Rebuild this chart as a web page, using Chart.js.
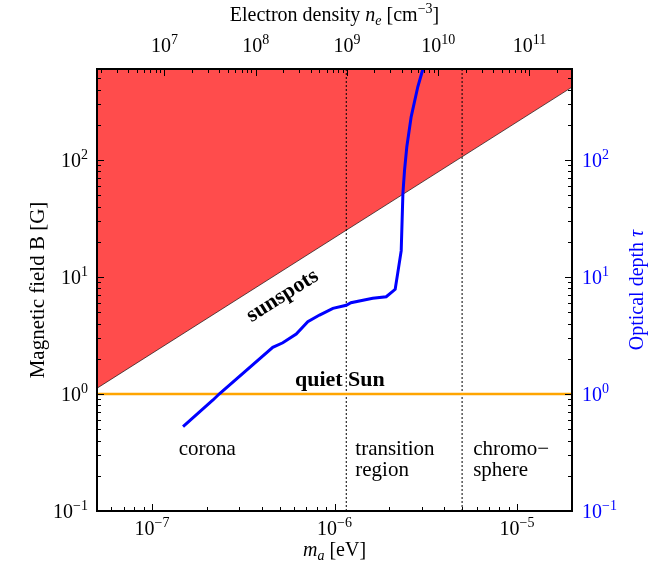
<!DOCTYPE html>
<html>
<head>
<meta charset="utf-8">
<script src="https://cdn.jsdelivr.net/npm/chart.js@4/dist/chart.umd.min.js"></script>
<style>
  body { margin: 0; background: #fff; }
</style>
</head>
<body>
<canvas id="chart" width="659" height="575"></canvas>
<script>
// axion mass range and field range shown
const massRange = [5e-8, 2e-5];
const fieldRange = [0.1, 600];

// sunspot field line (region above it is filled)
const sunspotMass = [5e-8, 2e-5];
const sunspotField = [1.12, 420];

// quiet sun field
const quietSunField = 1.0;

// corona / transition region / chromosphere boundaries
const regionEdges = [1.16e-6, 5.0e-6];

// optical depth curve
const tauMass = [1.48e-7, 2.16e-7, 2.35e-7, 4.59e-7, 5.21e-7, 6.17e-7, 7.14e-7, 8.28e-7,
  9.80e-7, 1.16e-6, 1.23e-6, 1.62e-6, 1.92e-6, 2.15e-6, 2.22e-6, 2.32e-6, 2.37e-6,
  2.42e-6, 2.49e-6, 2.63e-6, 2.86e-6, 3.04e-6, 3.12e-6];
const tauValues = [0.526, 0.889, 1.01, 2.51, 2.74, 3.26, 4.15, 4.73,
  5.40, 5.73, 6.03, 6.58, 6.79, 7.85, 10.8, 16.8, 51.9,
  82.2, 130, 234, 423, 588, 700];

// plasma frequency: m_a [eV] = 3.7e-11 * sqrt(n_e [cm^-3])
const plasmaFactor = 3.7e-11;
const densityRange = massRange.map(m => Math.pow(m / plasmaFactor, 2));

const regionNotes = [
  { lines: ['corona'], mass: 1.40e-7, field: 0.30 },
  { lines: ['transition', 'region'], mass: 1.30e-6, field: 0.30 },
  { lines: ['chromo\u2212', 'sphere'], mass: 5.75e-6, field: 0.30 }
];
const quietNote = { text: 'quiet Sun', mass: 1.07e-6, field: 1.17 };
const sunspotNote = { text: 'sunspots', mass: 5.19e-7, field: 6.88 };

const serif = "'Liberation Serif', 'DejaVu Serif', serif";
const blue = '#0000ff';

const decades = (min, max) => {
  const out = [];
  for (let k = Math.floor(Math.log10(min)); k <= Math.ceil(Math.log10(max)); k++) {
    const v = Number('1e' + k);
    if (v >= min * 0.9999 && v <= max * 1.0001) out.push({ value: v });
  }
  return out;
};

const logSteps = (min, max) => {
  const out = [];
  for (let k = Math.floor(Math.log10(min)); k <= Math.ceil(Math.log10(max)); k++) {
    for (let j = 1; j <= 9; j++) {
      const v = j * Number('1e' + k);
      if (v >= min * 0.9999 && v <= max * 1.0001) out.push({ v, major: j === 1 });
    }
  }
  return out;
};

const toPoints = (xs, ys) => xs.map((x, i) => ({ x, y: ys[i] }));

// text with italic / raised / lowered pieces
const drawRich = (ctx, segs, x, y, size, align) => {
  const fontFor = s => (s.italic ? 'italic ' : '') + Math.round(s.sub || s.sup ? size * 0.7 : size) + 'px ' + serif;
  let w = 0;
  segs.forEach(s => { ctx.font = fontFor(s); w += ctx.measureText(s.t).width; });
  let cx = align === 'center' ? x - w / 2 : align === 'right' ? x - w : x;
  ctx.textAlign = 'left';
  ctx.textBaseline = 'alphabetic';
  segs.forEach(s => {
    ctx.font = fontFor(s);
    const dy = s.sub ? size * 0.22 : s.sup ? -size * 0.42 : 0;
    ctx.fillText(s.t, cx, y + dy);
    cx += ctx.measureText(s.t).width;
  });
};

const powerSegs = v => [{ t: '10' }, { t: String(Math.round(Math.log10(v))).replace('-', '\u2212'), sup: true }];

const insideTicks = {
  id: 'insideTicks',
  afterDraw(chart) {
    const { ctx, chartArea: a } = chart;
    const sx = chart.scales.x, sy = chart.scales.y;
    ctx.save();
    ctx.strokeStyle = '#000';
    ctx.lineWidth = 1;
    Object.values(chart.scales).forEach(s => {
      logSteps(s.min, s.max).forEach(({ v, major }) => {
        const len = major ? 7 : 4;
        const p = Math.round(s.getPixelForValue(v)) + 0.5;
        ctx.beginPath();
        if (s.position === 'bottom') { ctx.moveTo(p, a.bottom); ctx.lineTo(p, a.bottom - len); }
        if (s.position === 'top') { ctx.moveTo(p, a.top); ctx.lineTo(p, a.top + len); }
        if (s.position === 'left') { ctx.moveTo(a.left, p); ctx.lineTo(a.left + len, p); }
        if (s.position === 'right') { ctx.moveTo(a.right, p); ctx.lineTo(a.right - len, p); }
        ctx.stroke();
      });
      // tick labels
      ctx.fillStyle = s.id === 'y2' ? blue : '#000';
      s.ticks.forEach(t => {
        const p = s.getPixelForValue(t.value);
        if (s.position === 'bottom') drawRich(ctx, powerSegs(t.value), p, 535, 20, 'center');
        if (s.position === 'top') drawRich(ctx, powerSegs(t.value), p, 52, 20, 'center');
        if (s.position === 'left') drawRich(ctx, powerSegs(t.value), 88, p + 7, 20, 'right');
        if (s.position === 'right') drawRich(ctx, powerSegs(t.value), 582, p + 7, 20, 'left');
      });
    });

    // axis titles
    ctx.fillStyle = '#000';
    drawRich(ctx, [{ t: 'm', italic: true }, { t: 'a', italic: true, sub: true }, { t: ' [eV]' }],
      (a.left + a.right) / 2, 556, 20, 'center');
    drawRich(ctx, [{ t: 'Electron density ' }, { t: 'n', italic: true }, { t: 'e', italic: true, sub: true },
      { t: ' [cm' }, { t: '\u22123', sup: true }, { t: ']' }], (a.left + a.right) / 2, 21, 20, 'center');

    ctx.save();
    ctx.translate(643, (a.top + a.bottom) / 2);
    ctx.rotate(-Math.PI / 2);
    ctx.fillStyle = blue;
    drawRich(ctx, [{ t: 'Optical depth ' }, { t: '\u03c4', italic: true }], 0, 0, 20, 'center');
    ctx.restore();

    // annotations
    ctx.fillStyle = '#000';
    ctx.font = '21px ' + serif;
    ctx.textAlign = 'left';
    ctx.textBaseline = 'alphabetic';
    regionNotes.forEach(n => {
      const x = sx.getPixelForValue(n.mass);
      const y = sy.getPixelForValue(n.field);
      n.lines.forEach((t, i) => ctx.fillText(t, x, y + i * 21));
    });

    ctx.font = 'bold 22px ' + serif;
    ctx.textAlign = 'center';
    ctx.fillText(quietNote.text, sx.getPixelForValue(quietNote.mass), sy.getPixelForValue(quietNote.field));

    const x0 = sx.getPixelForValue(sunspotMass[0]), y0 = sy.getPixelForValue(sunspotField[0]);
    const x1 = sx.getPixelForValue(sunspotMass[1]), y1 = sy.getPixelForValue(sunspotField[1]);
    ctx.save();
    ctx.translate(sx.getPixelForValue(sunspotNote.mass), sy.getPixelForValue(sunspotNote.field));
    ctx.rotate(Math.atan2(y1 - y0, x1 - x0));
    ctx.textBaseline = 'middle';
    ctx.fillText(sunspotNote.text, 0, 0);
    ctx.restore();
    ctx.restore();
  }
};

const axisFont = { family: serif, size: 21 };
const border = { display: true, color: '#000', width: 2, z: 1 };
const hiddenTicks = { display: false };

new Chart(document.getElementById('chart'), {
  type: 'line',
  data: {
    datasets: [
      {
        data: toPoints(sunspotMass, sunspotField),
        borderColor: 'rgba(0,0,0,0.65)', borderWidth: 1,
        backgroundColor: 'rgba(255,0,0,0.7)', fill: 'end',
        pointRadius: 0, yAxisID: 'y', order: 4
      },
      ...regionEdges.map(m => ({
        data: toPoints([m, m], fieldRange),
        borderColor: '#000', borderWidth: 1, borderDash: [2, 2],
        pointRadius: 0, fill: false, yAxisID: 'y', order: 3
      })),
      {
        data: toPoints(massRange, massRange.map(() => quietSunField)),
        borderColor: '#ffa500', borderWidth: 2.5,
        pointRadius: 0, fill: false, yAxisID: 'y', order: 2
      },
      {
        data: toPoints(tauMass, tauValues),
        borderColor: blue, borderWidth: 3,
        pointRadius: 0, fill: false, yAxisID: 'y2', order: 1
      }
    ]
  },
  options: {
    responsive: false,
    animation: false,
    layout: { padding: 0 },
    plugins: { legend: { display: false }, tooltip: { enabled: false } },
    scales: {
      x: {
        type: 'logarithmic', position: 'bottom',
        min: massRange[0], max: massRange[1],
        grid: { display: false }, border, ticks: hiddenTicks,
        afterBuildTicks: s => { s.ticks = decades(s.min, s.max); },
        afterFit: s => { s.height = 64; }
      },
      x2: {
        type: 'logarithmic', position: 'top',
        min: densityRange[0], max: densityRange[1],
        grid: { display: false }, border, ticks: hiddenTicks,
        afterBuildTicks: s => { s.ticks = decades(s.min, s.max); },
        afterFit: s => { s.height = 69; }
      },
      y: {
        type: 'logarithmic', position: 'left',
        min: fieldRange[0], max: fieldRange[1],
        grid: { display: false }, border, ticks: hiddenTicks,
        afterBuildTicks: s => { s.ticks = decades(s.min, s.max); },
        afterFit: s => { s.width = 97; },
        title: { display: true, text: 'Magnetic field B [G]', color: '#000', font: axisFont, padding: { top: 26 } }
      },
      y2: {
        type: 'logarithmic', position: 'right',
        min: fieldRange[0], max: fieldRange[1],
        grid: { display: false }, border, ticks: hiddenTicks,
        afterBuildTicks: s => { s.ticks = decades(s.min, s.max); },
        afterFit: s => { s.width = 87; }
      }
    }
  },
  plugins: [insideTicks]
});
</script>
</body>
</html>
